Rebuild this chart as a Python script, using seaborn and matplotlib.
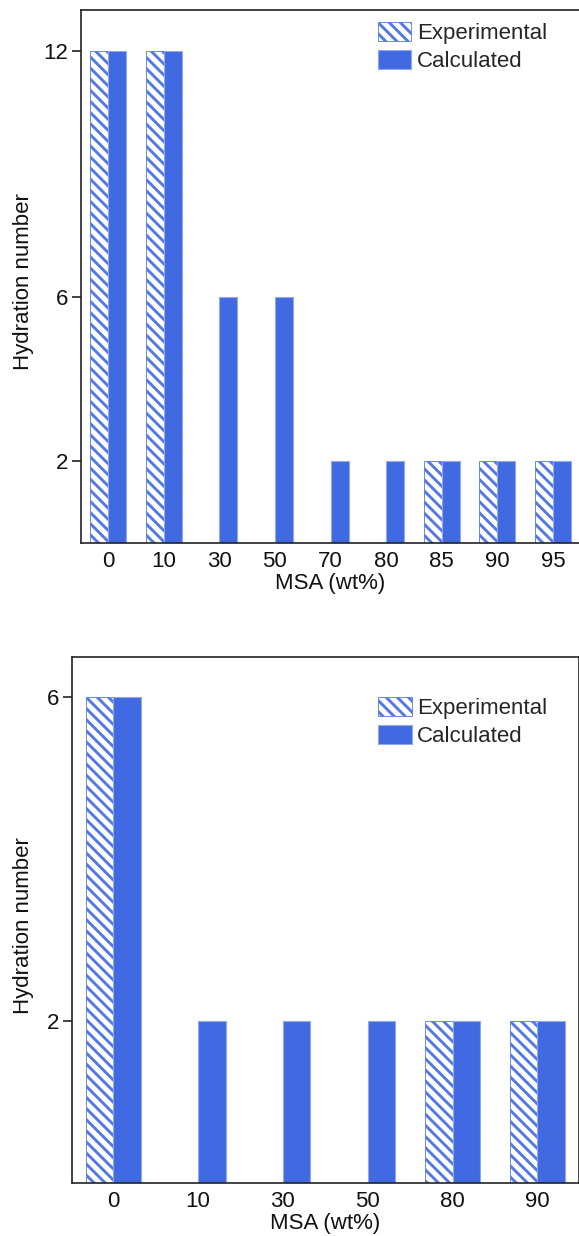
import numpy as np
import pandas as pd
import matplotlib
matplotlib.use("Agg")
import matplotlib.pyplot as plt
import seaborn as sns
from matplotlib.patches import Patch

# Hydration numbers vs. MSA content (two systems)
top_msa = ["0", "10", "30", "50", "70", "80", "85", "90", "95"]
top_experimental = [12, 12, np.nan, np.nan, np.nan, np.nan, 2, 2, 2]
top_calculated = [12, 12, 6, 6, 2, 2, 2, 2, 2]
top_yticks = [2, 6, 12]

bottom_msa = ["0", "10", "30", "50", "80", "90"]
bottom_experimental = [6, np.nan, np.nan, np.nan, 2, 2]
bottom_calculated = [6, 2, 2, 2, 2, 2]
bottom_yticks = [2, 6]

series_names = ["Experimental", "Calculated"]

BLUE = "#4169E1"
HATCH_BLUE = "#5479E4"
EDGE_LIGHT = "#8FA8EE"
HATCH = "\\\\\\"
FS = 16

sns.set_style("ticks")
plt.rcParams["font.family"] = ["Liberation Sans", "DejaVu Sans"]
plt.rcParams["hatch.linewidth"] = 2.1

fig = plt.figure(figsize=(5.79, 12.36), dpi=100)
ax_top = fig.add_axes([81 / 579, 1 - 543 / 1236, (580 - 81) / 579, 533 / 1236])
ax_bot = fig.add_axes([72 / 579, 1 - 1183 / 1236, (578.5 - 72) / 579, 526 / 1236])


def draw(ax, cats, exp, calc, ylim, yticks, ylab_x, leg_anchor):
    df = pd.DataFrame({
        "MSA": cats * 2,
        "Source": [series_names[0]] * len(cats) + [series_names[1]] * len(cats),
        "Hydration": list(exp) + list(calc),
    })
    sns.barplot(data=df, x="MSA", y="Hydration", hue="Source", order=cats,
                hue_order=series_names,
                palette={series_names[0]: "white", series_names[1]: BLUE},
                width=0.65, gap=0, saturation=1, errorbar=None,
                legend=False, ax=ax)
    for bar in ax.containers[0]:
        bar.set_facecolor("white")
        bar.set_edgecolor(HATCH_BLUE)
        bar.set_hatch(HATCH)
        bar.set_linewidth(0.6)
    for bar in ax.containers[1]:
        bar.set_facecolor(BLUE)
        bar.set_edgecolor(EDGE_LIGHT)
        bar.set_linewidth(0.8)

    ax.set_xlim(-0.485, len(cats) - 1 + 0.485)
    ax.set_ylim(*ylim)
    ax.set_yticks(yticks)
    ax.tick_params(axis="x", length=0, pad=5.5, labelsize=FS, colors="#111111")
    ax.tick_params(axis="y", length=6.5, width=1.1, pad=3, labelsize=FS,
                   colors="#111111")
    for sp in ax.spines.values():
        sp.set_visible(True)
        sp.set_color("#222222")
        sp.set_linewidth(1.2)

    ax.set_xlabel("MSA (wt%)", fontsize=FS, labelpad=1, color="#111111")
    ax.set_ylabel("Hydration number", fontsize=FS, color="#111111")
    ax.yaxis.set_label_coords(ylab_x, 0.49)

    handles = [
        Patch(facecolor="white", edgecolor=HATCH_BLUE, hatch=HATCH, linewidth=0.6),
        Patch(facecolor=BLUE, edgecolor=EDGE_LIGHT, linewidth=0.8),
    ]
    ax.legend(handles, series_names, loc="upper left", bbox_to_anchor=leg_anchor,
              frameon=False, fontsize=FS, handlelength=1.5, handleheight=0.95,
              handletextpad=0.25, labelspacing=0.25, borderpad=0,
              borderaxespad=0)


draw(ax_top, top_msa, top_experimental, top_calculated, (0, 13), top_yticks,
     (34 - 81) / 499, (0.595, 0.978))
draw(ax_bot, bottom_msa, bottom_experimental, bottom_calculated, (0, 6.5),
     bottom_yticks, (34 - 72) / 506.5, (0.605, 0.924))

fig.savefig("out.png", dpi=100)
